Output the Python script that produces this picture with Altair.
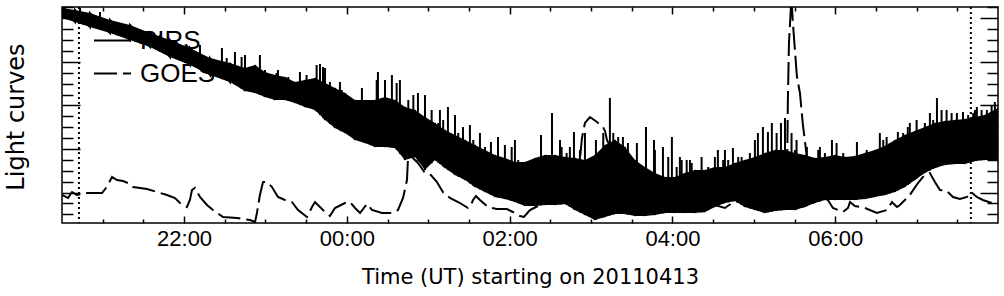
import altair as alt
import numpy as np
import pandas as pd

START = pd.Timestamp("2011-04-13T20:30:00Z")
END_MIN = 690  # 08:00 UT

# ---- PIRS light curve (minutes after 20:30 UT, arbitrary units) ----
band_min = [0, 9.6, 20.6, 35.4, 50.1, 64.9, 79.6, 94.3, 109.1, 123.8,
            134.9, 142.3, 149.6, 157, 164.4, 171.7, 179.1, 186.5, 193.9, 201.2,
            208.6, 216, 223.3, 230.7, 238.1, 245.5, 252.8, 260.2, 267.6, 274.9,
            282.3, 289.7, 297.1, 304.4, 311.8, 319.2, 326.5, 333.9, 341.3, 348.7,
            356, 363.4, 370.8, 378.1, 385.5, 392.9, 400.3, 407.6, 415, 422.4,
            429.7, 437.1, 444.5, 451.8, 459.2, 466.6, 474, 481.3, 488.7, 496.1,
            503.4, 510.8, 518.2, 525.6, 532.9, 540.3, 547.7, 555, 562.4, 569.8,
            577.1, 584.5, 591.9, 599.3, 606.6, 614, 621.4, 628.7, 636.1, 643.5,
            650.9, 658.2, 665.6, 673, 680.3, 690]
band_top = [215, 213, 210, 203, 198, 190, 183, 175, 165, 160,
            155, 158, 151, 148, 146, 141, 143, 145, 140, 135,
            130, 123, 123, 123, 126, 123, 116, 113, 106, 100,
            93, 88, 83, 78, 73, 68, 65, 61, 61, 65,
            68, 68, 66, 65, 63, 68, 78, 83, 76, 63,
            56, 50, 46, 46, 50, 53, 53, 56, 56, 60,
            63, 66, 70, 73, 73, 70, 68, 65, 66, 68,
            66, 67, 70, 73, 77, 83, 88, 92, 96, 100,
            102, 103, 104, 106, 108, 115]
band_bot = [205, 201, 196, 190, 183, 176, 166, 158, 148, 141,
            132, 130, 126, 123, 123, 120, 116, 113, 103, 95,
            90, 83, 80, 76, 76, 75, 63, 66, 53, 63,
            55, 48, 43, 36, 31, 26, 24, 21, 17, 17,
            18, 18, 19, 13, 8, 3, 6, 9, 9, 7,
            7, 8, 10, 10, 10, 10, 11, 16, 20, 22,
            16, 13, 10, 12, 13, 13, 16, 20, 23, 23,
            23, 23, 24, 26, 28, 31, 36, 43, 50, 55,
            58, 59, 59, 62, 63, 63]
spike_min = [2.2, 13.3, 28, 40.5, 53.8, 72.2, 101.7, 117.9, 127.5, 134.9,
             145.9, 159.2, 175.4, 190.2, 192.4, 204.9, 221.1, 232.9, 238.1, 243.2,
             249.1, 262.4, 267.6, 278.6, 284.5, 289.7, 300.7, 316.2, 326.5, 333.9,
             353.1, 361.2, 367.1, 377.4, 385.5, 393.6, 403.9, 413.5, 423.8, 430.5,
             436.4, 443, 449.6, 462.9, 483.5, 494.6, 510.8, 516.7, 520.4, 523.3,
             530, 533, 540.3, 549.1, 557.5, 567.6, 586, 602.9, 616.2, 623.5,
             636.1, 645, 659.7, 673, 687.7,
             275.9, 281, 295.6, 308.1, 321.4, 374.4, 410, 417.2, 437.1, 455.5,
             471.5, 488.7, 501, 513, 558.7, 571, 593.2, 607.9, 625, 630,
             652.1, 664.2, 674.4, 681.8,
             15.7, 48.9, 57.5, 79.6, 90.7, 111.5, 121.4, 132.4,
             149.6, 158.2, 166.8, 180.3, 187.7, 193.9, 197.5, 206.2, 232, 246.7,
             255.3, 259, 272.5,
             277.4, 292.1, 303.2, 311.8, 331.5, 336.3, 347.4, 364.6, 368.3, 372,
             381.8, 399, 406.4,
             416.2, 446.9, 453.1, 456.8, 460.5, 464.2, 472.7, 476.4, 481.3, 487.4,
             491.1, 498.5, 503.4, 507.1, 526.8, 537.8, 541.5,
             546.4, 553.8, 562.4, 575.9, 596.8, 605.4, 610.3, 620.1, 627.5, 639.8,
             642.2, 648.4, 655.8, 668, 671.7, 677.9, 685.3]
spike_top = [216, 215, 211, 198, 195, 188, 178, 175, 171, 168,
             168, 153, 151, 159, 156, 141, 135, 151, 143, 148,
             143, 130, 128, 113, 116, 108, 98, 81, 78, 83,
             88, 110, 83, 91, 90, 83, 125, 86, 80, 96,
             83, 76, 86, 63, 73, 75, 83, 96, 91, 100,
             100, 105, 73, 76, 73, 83, 81, 90, 91, 96,
             100, 125, 110, 113, 121,
             90, 103, 96, 90, 86, 76, 86, 80, 73, 66,
             66, 73, 66, 90, 76, 80, 73, 86, 100, 103,
             113, 111, 116, 113,
             211, 196, 193, 181, 173, 163, 165, 166,
             153, 150, 146, 148, 158, 155, 141, 133, 143, 140,
             123, 128, 113,
             100, 90, 83, 76, 76, 63, 63, 66, 76, 70,
             73, 90, 90,
             70, 66, 56, 63, 63, 60, 53, 56, 66, 63,
             63, 66, 60, 70, 90, 90, 83,
             66, 63, 70, 70, 66, 83, 80, 90, 90, 110,
             103, 113, 110, 108, 110, 113, 118]

# ---- GOES light curve ----
goes_min = [0, 4.4, 7.4, 11, 18.4, 29.5, 32.4, 36.9, 40.5, 45,
            48.6, 52.3, 62.7, 70, 77.4, 83.3, 87, 92.1, 94.3, 95.8,
            98, 101.7, 106.9, 111.3, 118.7, 129, 138.6, 142.3, 143.7, 145.9,
            148.2, 151.1, 154.8, 159.2, 164.4, 169.5, 174, 180.6, 184.3, 186.5,
            192.4, 197.5, 201.2, 208.6, 212.3, 216, 219.7, 224.8, 228.5, 235.9,
            243.2, 247.7, 251.4, 254.3, 255, 256.5, 262.4, 267.6, 272, 276.4,
            280.8, 286, 293.4, 299.3, 301.5, 303, 305.2, 308.1, 314, 320.6,
            328, 332.4, 337.6, 340.5, 345, 352.3, 358.2, 361.9, 365.6, 370.8,
            378.1, 381.8, 383.3, 385.5, 389.2, 394.4, 398.8, 400.3, 401.7, 405.4,
            411.3, 418.7, 426.1, 433.5, 444.5, 455.5, 470.3, 481.3, 488.7, 493.9,
            501.2, 503.4, 505.7, 510.8, 523.3, 527.8, 531.5, 534.4, 535.1, 535.9,
            537.7, 538.8, 541.8, 544, 546.2, 549.1, 551.4, 555, 560.2, 564.6,
            568.3, 575.7, 579.4, 580.9, 584.5, 591.9, 600.7, 608.1, 611.8, 615.5,
            617.7, 625, 631, 634.6, 639.8, 643.5, 647.2, 652.3, 656.8, 661.9,
            667.1, 670, 674.4, 678.8, 685.5, 689.9]
goes_val = [28, 25, 31, 28, 30, 30, 35, 46, 43, 42,
            40, 36, 34, 31, 28, 25, 20, 16, 23, 33,
            35, 26, 18, 13, 6, 5, 3, 1, 10, 28,
            41, 41, 36, 26, 23, 21, 13, 6, 16, 21,
            13, 7, 15, 20, 21, 15, 10, 19, 13, 10,
            10, 13, 25, 43, 63, 68, 60, 50, 48, 41,
            31, 25, 20, 15, 18, 23, 27, 23, 16, 14,
            14, 11, 7, 6, 13, 18, 23, 33, 20, 23,
            33, 63, 85, 100, 106, 101, 96, 92, 83, 73,
            63, 51, 35, 27, 23, 20, 17, 18, 15, 20,
            23, 26, 20, 15, 13, 16, 21, 36, 123, 180,
            225, 200, 146, 130, 98, 66, 45, 31, 26, 23,
            15, 11, 15, 21, 17, 15, 10, 13, 21, 16,
            18, 28, 40, 46, 50, 41, 33, 32, 26, 24,
            26, 31, 26, 23, 20, 19]

event_min = [12.5, 670]

series_names = ["PIRS", "GOES"]
x_major_min = [90, 210, 330, 450, 570]
x_minor_min = [m for m in range(30, END_MIN, 30) if m not in x_major_min]
y_major = [30.5 + 43.55 * k for k in range(5)]
y_minor = [30.5 + 10.8875 * k for k in range(-2, 18) if k % 4 != 0]


def to_ms(mins):
    base = START.value // 10**6
    return [int(base + round(m * 60000)) for m in mins]


band = pd.DataFrame({"t": to_ms(band_min), "top": band_top, "bot": band_bot})
spikes = pd.DataFrame({
    "t": to_ms(spike_min),
    "top": spike_top,
    "base": np.interp(spike_min, band_min, band_bot),
})
pirs_t, pirs_v = [], []
for m, lo, hi in zip(band_min, band_bot, band_top):
    pirs_t += [m, m]
    pirs_v += [lo, hi]
lines = pd.DataFrame({
    "t": to_ms(pirs_t + goes_min),
    "v": pirs_v + goes_val,
    "series": ["PIRS"] * len(pirs_t) + ["GOES"] * len(goes_min),
    "i": list(range(len(pirs_t))) + list(range(len(goes_min))),
})
events = pd.DataFrame({"t": to_ms(event_min)})

W, H = 936, 216
xscale = alt.Scale(type="utc", domain=to_ms([0, END_MIN]), nice=False)
yscale = alt.Scale(domain=[0, H], nice=False, zero=False)


def tick_axis(orient, values, size, offset):
    return alt.Axis(orient=orient, values=values, tickSize=size, offset=offset,
                    ticks=True, labels=False, domain=False, grid=False, title=None,
                    tickColor="black", tickWidth=1.5)


x_label_axis = alt.Axis(
    orient="bottom", values=to_ms(x_major_min), format="%H:%M",
    labelFont="Liberation Sans", labelFontSize=22, labelColor="black",
    labelPadding=5, labelFlush=False, labelOverlap=False,
    ticks=False, domain=False, grid=False,
    title="Time (UT) starting on 20110413", titleFont="DejaVu Sans",
    titleFontSize=21, titleFontWeight="normal", titleColor="black",
    titleY=60, titleBaseline="alphabetic")
y_title_axis = alt.Axis(
    orient="left", labels=False, ticks=False, domain=False, grid=False,
    title="Light curves", titleFont="DejaVu Sans", titleFontSize=24,
    titleFontWeight="normal", titleColor="black", titleAngle=270,
    titleX=-39, titleY=109.5, titleAlign="center", titleBaseline="alphabetic")

band_layer = alt.Chart(band).mark_area(color="black", opacity=1, clip=True).encode(
    x=alt.X("t:T", scale=xscale, axis=x_label_axis),
    y=alt.Y("top:Q", scale=yscale, axis=y_title_axis),
    y2="bot:Q",
)

spike_layer = alt.Chart(spikes).mark_rule(color="black", strokeWidth=2, clip=True).encode(
    x=alt.X("t:T", scale=xscale, axis=tick_axis("top", to_ms(x_major_min), 7, -H)),
    y=alt.Y("top:Q", scale=yscale, axis=tick_axis("right", y_major, 18, -W)),
    y2="base:Q",
)

line_layer = alt.Chart(lines).mark_line(color="black", strokeWidth=2, clip=True).encode(
    x=alt.X("t:T", scale=xscale, axis=tick_axis("top", to_ms(x_minor_min), 4, -H)),
    y=alt.Y("v:Q", scale=yscale, axis=tick_axis("right", y_minor, 11, -W)),
    strokeDash=alt.StrokeDash(
        "series:N",
        scale=alt.Scale(domain=series_names, range=[[1, 0], [23, 6]]),
        sort=series_names,
        legend=alt.Legend(
            orient="none", legendX=31, legendY=14, title=None,
            symbolType="stroke", symbolSize=1369, symbolStrokeWidth=2,
            symbolStrokeColor="black", labelFont="Liberation Sans",
            labelFontSize=26, labelColor="black", labelOffset=8,
            rowPadding=-3, padding=0, labelLimit=300),
    ),
    detail="series:N",
    order="i:Q",
)

dummy_a = alt.Chart(band).mark_point(opacity=0).encode(
    x=alt.X("t:T", scale=xscale, axis=tick_axis("bottom", to_ms(x_major_min), 7, -H)),
    y=alt.Y("top:Q", scale=yscale, axis=tick_axis("left", y_major, 18, -W)),
)
dummy_b = alt.Chart(band).mark_point(opacity=0).encode(
    x=alt.X("t:T", scale=xscale, axis=tick_axis("bottom", to_ms(x_minor_min), 4, -H)),
    y=alt.Y("bot:Q", scale=yscale, axis=tick_axis("left", y_minor, 11, -W)),
)

event_layer = alt.Chart(events).mark_rule(color="black", strokeWidth=2, strokeDash=[2, 3]).encode(
    x=alt.X("t:T", scale=xscale, axis=None),
)

chart = alt.layer(
    band_layer, spike_layer, line_layer, dummy_a, dummy_b, event_layer
).resolve_axis(
    x="independent", y="independent"
).properties(
    width=W, height=H,
    autosize=alt.AutoSizeParams(type="none"),
    padding={"left": 62, "top": 7, "right": 6, "bottom": 73},
    background="white",
).configure_view(stroke="black", strokeWidth=1.5)

chart.save("out.html", embed_options={"renderer": "svg", "actions": False})
